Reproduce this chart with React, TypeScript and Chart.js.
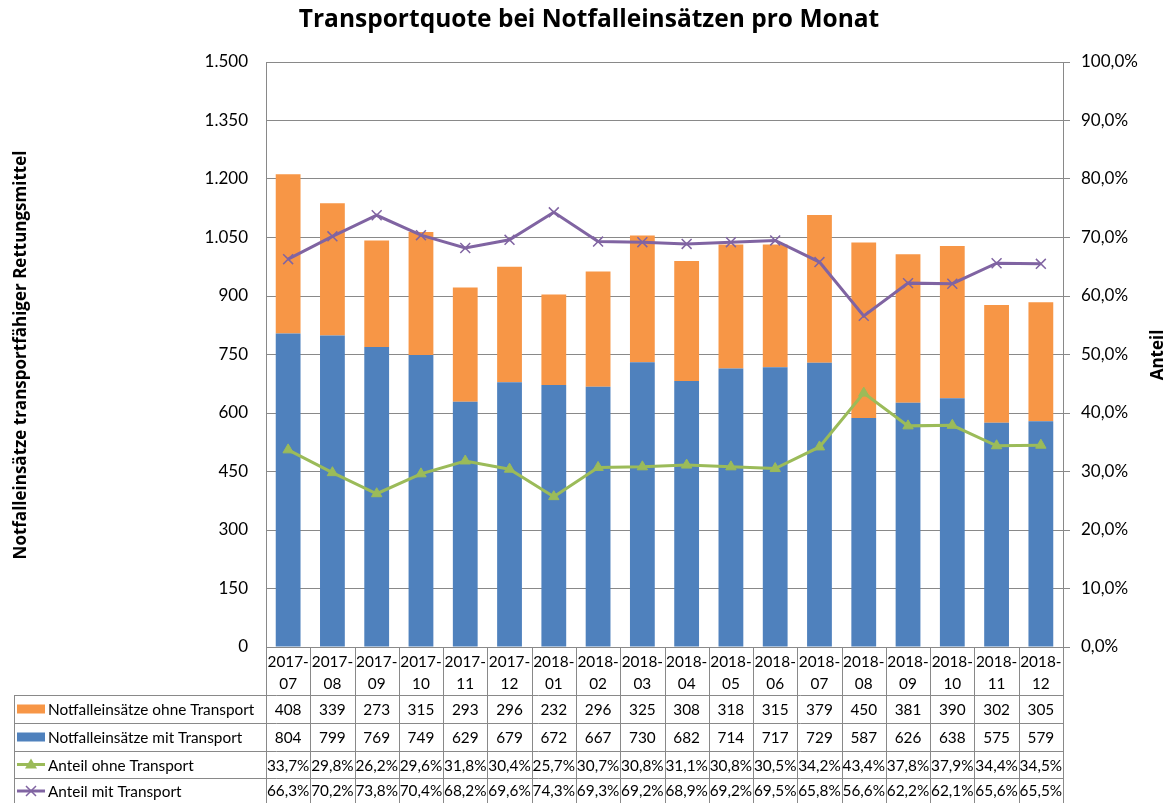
import React, { useEffect, useRef } from "react";
import { Chart, registerables } from "chart.js";

Chart.register(...registerables);

const categories = [
  ["2017-", "07"], ["2017-", "08"], ["2017-", "09"], ["2017-", "10"], ["2017-", "11"], ["2017-", "12"],
  ["2018-", "01"], ["2018-", "02"], ["2018-", "03"], ["2018-", "04"], ["2018-", "05"], ["2018-", "06"],
  ["2018-", "07"], ["2018-", "08"], ["2018-", "09"], ["2018-", "10"], ["2018-", "11"], ["2018-", "12"],
];
const ohneTransport = [408, 339, 273, 315, 293, 296, 232, 296, 325, 308, 318, 315, 379, 450, 381, 390, 302, 305];
const mitTransport = [804, 799, 769, 749, 629, 679, 672, 667, 730, 682, 714, 717, 729, 587, 626, 638, 575, 579];
const anteilOhne = [33.7, 29.8, 26.2, 29.6, 31.8, 30.4, 25.7, 30.7, 30.8, 31.1, 30.8, 30.5, 34.2, 43.4, 37.8, 37.9, 34.4, 34.5];
const anteilMit = [66.3, 70.2, 73.8, 70.4, 68.2, 69.6, 74.3, 69.3, 69.2, 68.9, 69.2, 69.5, 65.8, 56.6, 62.2, 62.1, 65.6, 65.5];

const TITLE = "Transportquote bei Notfalleinsätzen pro Monat";
const LEFT_TITLE = "Notfalleinsätze transportfähiger Rettungsmittel";
const RIGHT_TITLE = "Anteil";
const LABEL_OHNE = "Notfalleinsätze ohne Transport";
const LABEL_MIT = "Notfalleinsätze mit Transport";
const LABEL_A_OHNE = "Anteil ohne Transport";
const LABEL_A_MIT = "Anteil mit Transport";

const ORANGE = "#F79646";
const BLUE = "#4F81BD";
const GREEN = "#9BBB59";
const PURPLE = "#8064A2";
const GRID = "#898989";
const FONT = "Lato, 'Open Sans', sans-serif";
const BOLD_FONT = "'Open Sans', Lato, sans-serif";

const fmtPct = (v: number) => v.toFixed(1).replace(".", ",") + "%";

function drawText(ctx: CanvasRenderingContext2D, text: string, x: number, y: number, font: string, align: CanvasTextAlign, sx: number, rot = 0) {
  ctx.save();
  ctx.translate(x, y);
  if (rot) ctx.rotate(rot);
  ctx.scale(sx, 1);
  ctx.font = font;
  ctx.textAlign = align;
  ctx.textBaseline = "middle";
  ctx.fillStyle = "#000";
  ctx.fillText(text, 0, 0);
  ctx.restore();
}

const tablePlugin = {
  id: "dataTable",
  afterDraw(chart: any) {
    const ctx = chart.ctx as CanvasRenderingContext2D;
    const xs = chart.scales.x;
    const area = chart.chartArea;
    const n = categories.length;
    const colW = xs.getPixelForValue(1) - xs.getPixelForValue(0);
    const edge = (i: number) => xs.getPixelForValue(i) - colW / 2;
    const rows = [area.bottom, 695, 723, 751, 778, 806];
    const legendLeft = 14;
    ctx.save();
    ctx.strokeStyle = GRID;
    ctx.lineWidth = 1;
    ctx.beginPath();
    ctx.moveTo(area.left, rows[0] + 0.5);
    ctx.lineTo(area.right, rows[0] + 0.5);
    for (let r = 1; r < rows.length; r++) {
      ctx.moveTo(legendLeft, Math.round(rows[r]) + 0.5);
      ctx.lineTo(area.right, Math.round(rows[r]) + 0.5);
    }
    for (let i = 0; i <= n; i++) {
      const x = Math.round(edge(i)) + 0.5;
      ctx.moveTo(x, rows[0]);
      ctx.lineTo(x, rows[rows.length - 1]);
    }
    ctx.moveTo(legendLeft + 0.5, rows[1]);
    ctx.lineTo(legendLeft + 0.5, rows[rows.length - 1]);
    ctx.stroke();

    const f = `16px ${FONT}`;
    const s = 0.96;
    for (let i = 0; i < n; i++) {
      const cx = xs.getPixelForValue(i);
      drawText(ctx, categories[i][0], cx, 662, f, "center", s);
      drawText(ctx, categories[i][1], cx, 684, f, "center", s);
      drawText(ctx, String(ohneTransport[i]), cx, (rows[1] + rows[2]) / 2 + 1, f, "center", s);
      drawText(ctx, String(mitTransport[i]), cx, (rows[2] + rows[3]) / 2 + 1, f, "center", s);
      drawText(ctx, fmtPct(anteilOhne[i]), cx, (rows[3] + rows[4]) / 2 + 1, f, "center", s);
      drawText(ctx, fmtPct(anteilMit[i]), cx, (rows[4] + rows[5]) / 2 - 1, f, "center", s);
    }

    const keyL = 17, keyR = 45, keyC = 31;
    const labels = [LABEL_OHNE, LABEL_MIT, LABEL_A_OHNE, LABEL_A_MIT];
    for (let r = 0; r < 4; r++) {
      const cy = r === 3 ? (rows[r + 1] + rows[r + 2]) / 2 - 1 : (rows[r + 1] + rows[r + 2]) / 2;
      if (r === 0 || r === 1) {
        ctx.fillStyle = r === 0 ? ORANGE : BLUE;
        ctx.fillRect(keyL, cy - 4.5, keyR - keyL, 9);
      } else {
        const col = r === 2 ? GREEN : PURPLE;
        ctx.strokeStyle = col;
        ctx.lineWidth = 3;
        ctx.beginPath();
        ctx.moveTo(keyL, cy);
        ctx.lineTo(keyR, cy);
        ctx.stroke();
        if (r === 2) {
          ctx.fillStyle = col;
          ctx.beginPath();
          ctx.moveTo(keyC, cy - 6);
          ctx.lineTo(keyC + 6, cy + 4);
          ctx.lineTo(keyC - 6, cy + 4);
          ctx.closePath();
          ctx.fill();
        } else {
          ctx.lineWidth = 1.5;
          ctx.beginPath();
          ctx.moveTo(keyC - 5, cy - 5);
          ctx.lineTo(keyC + 5, cy + 5);
          ctx.moveTo(keyC + 5, cy - 5);
          ctx.lineTo(keyC - 5, cy + 5);
          ctx.stroke();
        }
      }
      drawText(ctx, labels[r], 48, cy + 1, f, "left", s);
    }

    drawText(ctx, TITLE, 589, 20, `bold 24.5px ${BOLD_FONT}`, "center", 1);
    drawText(ctx, LEFT_TITLE, 21, 355, `bold 17px ${BOLD_FONT}`, "center", 1, -Math.PI / 2);
    drawText(ctx, RIGHT_TITLE, 1158, 355, `bold 17px ${BOLD_FONT}`, "center", 1, -Math.PI / 2);
    ctx.restore();
  },
};

export default function App() {
  const ref = useRef<HTMLCanvasElement | null>(null);
  useEffect(() => {
    if (!ref.current) return;
    const chart = new Chart(ref.current, {
      type: "bar",
      data: {
        labels: categories.map((c) => c.join("")),
        datasets: [
          {
            type: "line",
            label: LABEL_A_OHNE,
            data: anteilOhne,
            yAxisID: "y1",
            borderColor: GREEN,
            backgroundColor: GREEN,
            borderWidth: 3,
            pointStyle: "triangle",
            pointRadius: 6,
            pointBorderWidth: 1,
            order: 1,
          } as any,
          {
            type: "line",
            label: LABEL_A_MIT,
            data: anteilMit,
            yAxisID: "y1",
            borderColor: PURPLE,
            backgroundColor: PURPLE,
            borderWidth: 3,
            pointStyle: "crossRot",
            pointRadius: 7,
            pointBorderWidth: 1.5,
            order: 1,
          } as any,
          {
            type: "bar",
            label: LABEL_MIT,
            data: mitTransport,
            yAxisID: "y",
            backgroundColor: BLUE,
            categoryPercentage: 1,
            barPercentage: 0.56,
            order: 2,
          },
          {
            type: "bar",
            label: LABEL_OHNE,
            data: ohneTransport,
            yAxisID: "y",
            backgroundColor: ORANGE,
            categoryPercentage: 1,
            barPercentage: 0.56,
            order: 2,
          },
        ],
      },
      options: {
        responsive: false,
        animation: false,
        layout: { padding: { top: 62, bottom: 156, left: 0, right: 0 } },
        plugins: { legend: { display: false }, tooltip: { enabled: false }, title: { display: false } },
        scales: {
          x: { display: false, stacked: true, offset: true },
          y: {
            type: "linear",
            position: "left",
            stacked: true,
            min: 0,
            max: 1500,
            afterFit: (s: any) => { s.width = 266; },
            ticks: {
              stepSize: 150,
              padding: 18,
              color: "#000",
              font: { family: FONT, size: 17 },
              callback: (v: any) => Number(v).toLocaleString("de-DE"),
            },
            grid: { color: GRID, drawTicks: false, lineWidth: 1 },
            border: { display: true, color: GRID },
          },
          y1: {
            type: "linear",
            position: "right",
            stacked: false,
            min: 0,
            max: 100,
            afterFit: (s: any) => { s.width = 110; },
            ticks: {
              stepSize: 10,
              padding: 11,
              color: "#000",
              font: { family: FONT, size: 17 },
              callback: (v: any) => fmtPct(Number(v)),
            },
            grid: { drawOnChartArea: false, drawTicks: true, tickLength: 7, color: GRID },
            border: { display: true, color: GRID },
          },
        },
      },
      plugins: [tablePlugin],
    } as any);
    return () => chart.destroy();
  }, []);
  return (
    <div style={{ position: "fixed", left: 0, top: 0, width: 1173, height: 803, background: "#fff" }}>
      <canvas ref={ref} width={1173} height={803} style={{ width: 1173, height: 803 }} />
    </div>
  );
}
